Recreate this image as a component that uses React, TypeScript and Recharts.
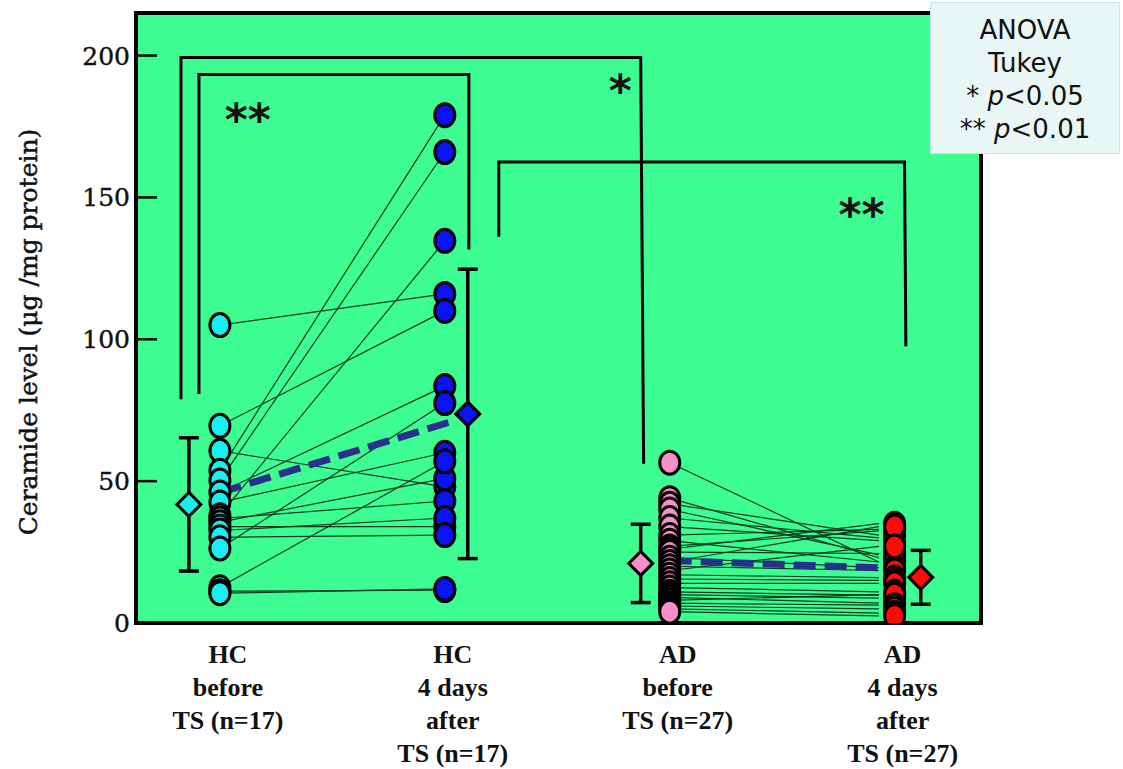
import React from "react";
import { ComposedChart, Scatter, XAxis, YAxis, ReferenceArea, ErrorBar } from "recharts";

// values (µg/mg protein), paired by subject
const hcBefore = [105, 69.5, 60.7, 53.7, 50.2, 46, 42.5, 38, 36.8, 35.5, 34, 32.6, 30.2, 26.3, 12.6, 11.2, 10.5];
const hcAfter = [116, 110, 48, 179, 166, 83.5, 60, 134.7, 43, 51, 34, 37, 31, 77.5, 57, 11.6, 12];
const adBefore = [56.5, 44, 42, 40, 37, 34, 31, 29, 27, 26, 25, 23, 21.5, 20, 18.5, 17, 15.5, 14, 12.5, 11, 10, 9, 8, 7, 6, 5, 4];
const adAfter = [21.5, 23, 31, 24, 30, 29, 33, 21.5, 32.5, 35, 24.5, 19.5, 34, 18.5, 27, 16, 15, 14, 11, 9.8, 8.8, 7, 10, 6.3, 5, 3.5, 2.5];

const groupMeans = [41.8, 73.7, 21, 16.1];
const groupSd = [23.5, 51, 13.8, 9.5];
const trendHC = [46, 71];
const trendAD = [22, 19.3];

const categoryLabels = [
  ["HC", "before", "TS (n=17)"],
  ["HC", "4 days", "after", "TS (n=17)"],
  ["AD", "before", "TS (n=27)"],
  ["AD", "4 days", "after", "TS (n=27)"],
];
const yTicks = [0, 50, 100, 150, 200];

// layout (data coords)
const meanOffset = [-0.138, 0.102, -0.129, 0.116];
const brackets = [
  [[0.827, 78.9], [0.827, 199.3], [2.871, 199.3], [2.884, 56.1]],
  [[0.907, 80.7], [0.907, 193.3], [2.107, 193.3], [2.107, 131.6]],
  [[2.24, 136.1], [2.24, 162.5], [4.044, 162.5], [4.05, 97.5]],
];
const stars = [
  { x: 1.124, y: 180.7, t: "**" },
  { x: 2.78, y: 191, t: "*" },
  { x: 3.853, y: 147.4, t: "**" },
];

const groupColors = ["#17eff0", "#0b14f0", "#f590c8", "#fe0a0a"];
const BG = "#3dfd92";
const DASH = "#2a2f8c";

const none = () => <g />;

const ellipse = (color: string) => (p: any) => (
  <ellipse cx={p.cx} cy={p.cy} rx={10} ry={11.5} fill={color} stroke="#000" strokeWidth={3} />
);

const diamond = (color: string) => (p: any) => (
  <path
    d={`M${p.cx},${p.cy - 12} L${p.cx + 12},${p.cy} L${p.cx},${p.cy + 12} L${p.cx - 12},${p.cy} Z`}
    fill={color}
    stroke="#000"
    strokeWidth={3}
  />
);

function YTick({ x, y, payload }: any) {
  return (
    <g>
      <text x={x} y={y + 9} textAnchor="end" fontFamily="DejaVu Serif" fontSize={25} fill="#111" stroke="#111" strokeWidth={0.4}>
        {payload.value}
      </text>
      {payload.value > 0 && <line x1={x + 6} x2={x + 27} y1={y} y2={y} stroke="#000" strokeWidth={2.5} />}
    </g>
  );
}

function XTick({ x, y, payload }: any) {
  const lines = categoryLabels[payload.value - 1] || [];
  return (
    <text x={x + 8} y={y} textAnchor="middle" fontFamily="Liberation Serif" fontWeight="bold" fontSize={26} fill="#111">
      {lines.map((l, i) => (
        <tspan key={i} x={x + 8} dy={i === 0 ? 40 : 33}>
          {l}
        </tspan>
      ))}
    </text>
  );
}

function YTitle({ viewBox }: any) {
  const cx = viewBox.x - 28;
  const cy = viewBox.y + viewBox.height / 2 + 14;
  return (
    <text x={cx} y={cy} transform={`rotate(-90 ${cx} ${cy})`} textAnchor="middle" dominantBaseline="central" fontFamily="DejaVu Serif" fontSize={25} fill="#111" stroke="#111" strokeWidth={0.5}>
      Ceramide level (μg /mg protein)
    </text>
  );
}

export default function App() {
  const groups = [hcBefore, hcAfter, adBefore, adAfter];
  return (
    <div style={{ position: "absolute", left: 0, top: 0, width: 1123, height: 769, background: "#fff" }}>
      <ComposedChart width={1123} height={769} margin={{ top: 13, right: 142, bottom: 116, left: 56 }}>
        <XAxis
          type="number"
          dataKey="x"
          domain={[0.627, 4.384]}
          ticks={[1, 2, 3, 4]}
          allowDataOverflow
          axisLine={false}
          tickLine={false}
          tickSize={0}
          tickMargin={0}
          height={30}
          tick={<XTick />}
          interval={0}
        />
        <YAxis
          type="number"
          dataKey="y"
          domain={[0, 215]}
          ticks={yTicks}
          allowDataOverflow
          axisLine={false}
          tickLine={false}
          tickSize={0}
          tickMargin={6}
          width={80}
          tick={<YTick />}
          interval={0}
          label={<YTitle />}
        />
        <ReferenceArea x1={0.627} x2={4.384} y1={0} y2={215} fill={BG} fillOpacity={1} stroke="#000" strokeWidth={4} />

        {brackets.map((b, i) => (
          <Scatter
            key={"br" + i}
            data={b.map(([x, y]) => ({ x, y }))}
            fill="none"
            line={{ stroke: "#000", strokeWidth: 3 }}
            shape={none}
            isAnimationActive={false}
          />
        ))}

        {hcBefore.map((v, i) => (
          <Scatter
            key={"hc" + i}
            data={[{ x: 1, y: v }, { x: 2, y: hcAfter[i] }]}
            fill="none"
            line={{ stroke: "#0d3a1c", strokeWidth: 1.2 }}
            shape={none}
            isAnimationActive={false}
          />
        ))}
        {adBefore.map((v, i) => (
          <Scatter
            key={"ad" + i}
            data={[{ x: 3, y: v }, { x: 3.93, y: adAfter[i] }]}
            fill="none"
            line={{ stroke: "#0d3a1c", strokeWidth: 1.2 }}
            shape={none}
            isAnimationActive={false}
          />
        ))}

        <Scatter
          data={[{ x: 1, y: trendHC[0] }, { x: 2.03, y: trendHC[1] }]}
          fill="none"
          line={{ stroke: DASH, strokeWidth: 7, strokeDasharray: "22 9" }}
          shape={none}
          isAnimationActive={false}
        />
        <Scatter
          data={[{ x: 3, y: trendAD[0] }, { x: 3.98, y: trendAD[1] }]}
          fill="none"
          line={{ stroke: DASH, strokeWidth: 7, strokeDasharray: "22 9" }}
          shape={none}
          isAnimationActive={false}
        />

        {groups.map((g, gi) => (
          <Scatter
            key={"pts" + gi}
            data={g.map((v) => ({ x: gi + 1, y: v }))}
            shape={ellipse(groupColors[gi])}
            isAnimationActive={false}
          />
        ))}

        {groupMeans.map((m, gi) => (
          <Scatter
            key={"mean" + gi}
            data={[{ x: gi + 1 + meanOffset[gi], y: m, err: groupSd[gi] }]}
            shape={diamond(groupColors[gi])}
            isAnimationActive={false}
          >
            <ErrorBar dataKey="err" direction="y" width={10} stroke="#000" strokeWidth={3.5} />
          </Scatter>
        ))}

        <Scatter
          data={stars}
          shape={(p: any) => (
            <text x={p.cx} y={p.cy + 25} textAnchor="middle" fontFamily="DejaVu Sans" fontWeight="bold" fontSize={44} fill="#111">
              {p.payload.t}
            </text>
          )}
          isAnimationActive={false}
        />
      </ComposedChart>

      <div
        style={{
          position: "absolute",
          left: 930,
          top: 2,
          width: 190,
          height: 152,
          background: "#e8f6f5",
          border: "1px solid #c6e6ea",
          boxSizing: "border-box",
          fontFamily: "DejaVu Sans",
          fontSize: 26,
          color: "#111",
          textAlign: "center",
          lineHeight: "33px",
          paddingTop: 11,
        }}
      >
        <div>ANOVA</div>
        <div>Tukey</div>
        <div>
          * <i>p</i>&lt;0.05
        </div>
        <div>
          ** <i>p</i>&lt;0.01
        </div>
      </div>
    </div>
  );
}
